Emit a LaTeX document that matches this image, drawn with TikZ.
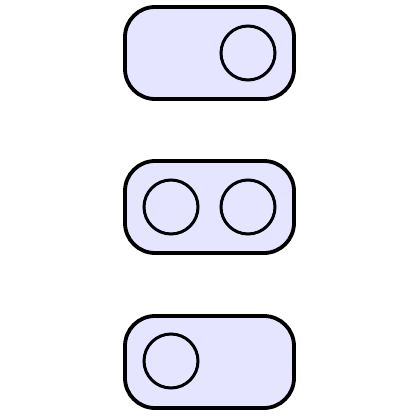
\documentclass[tikz,border=0pt]{standalone}
\begin{document}
\begin{tikzpicture}[x=1pt,y=-1pt,
  slot/.style={draw=black,fill=blue!10,line width=3.8pt,rounded corners=30pt},
  hole/.style={draw=black,fill=blue!10,line width=3pt,circle,minimum size=54pt,inner sep=0pt}]
\useasboundingbox (0,0) rectangle (420,420);
\draw[slot] (125,7) rectangle (294,99);
\node[hole] (t2) at (248,53) {};
\draw[slot] (125,161) rectangle (294,253);
\node[hole] (m1) at (171,207) {};
\node[hole] (m2) at (248,207) {};
\draw[slot] (125,316) rectangle (294,408);
\node[hole] (b1) at (171,361) {};
\end{tikzpicture}
\end{document}
